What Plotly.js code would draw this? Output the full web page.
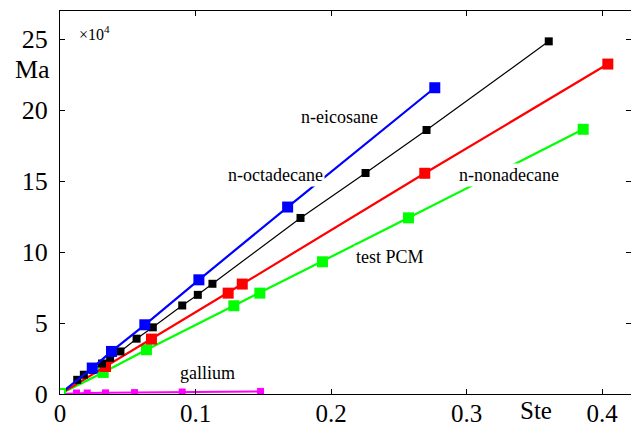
<!DOCTYPE html>
<html>
<head>
<meta charset="utf-8">
<script src="https://cdn.plot.ly/plotly-3.0.1.min.js"></script>
<style>html,body{margin:0;padding:0;background:#fff;}#chart{width:631px;height:424px;}</style>
</head>
<body>
<div id="chart"></div>
<script>
// Ma values in units of 1e4
const eicosaneSte = [0, 0.0238, 0.038, 0.0626, 0.1025, 0.168, 0.2766];
const eicosaneMa  = [0, 1.83, 3.0, 4.88, 8.05, 13.18, 21.59];

const octadecaneSte = [0, 0.0127, 0.0176, 0.024, 0.031, 0.037, 0.0446, 0.0565, 0.0685, 0.0902, 0.1017, 0.1125, 0.1775, 0.2255, 0.2705, 0.3607];
const octadecaneMa  = [0, 1.0, 1.36, 1.7, 2.15, 2.55, 3.0, 3.9, 4.7, 6.24, 6.99, 7.77, 12.41, 15.58, 18.61, 24.86];

const nonadecaneSte = [0, 0.0336, 0.0675, 0.1241, 0.1345, 0.2692, 0.4043];
const nonadecaneMa  = [0, 1.94, 3.87, 7.11, 7.75, 15.56, 23.26];

const testSte = [0, 0.0319, 0.0638, 0.1283, 0.1475, 0.1937, 0.2572, 0.3861];
const testMa  = [0, 1.52, 3.12, 6.22, 7.11, 9.32, 12.42, 18.66];

const galliumSte = [0, 0.0122, 0.0201, 0.0336, 0.055, 0.0902, 0.148];
const galliumMa  = [0, 0.07, 0.07, 0.08, 0.1, 0.14, 0.18];

const xTicks = [0, 0.1, 0.2, 0.3, 0.4];
const xTickText = ['0', '0.1', '0.2', '0.3', '0.4'];
const yTicks = [0, 5, 10, 15, 20, 25];
const yTickText = ['0', '5', '10', '15', '20', '25'];

const serif = 'Liberation Serif, Times New Roman, serif';

const traces = [
  {x: galliumSte, y: galliumMa, mode: 'lines+markers', line: {color: '#ff00ff', width: 2}, marker: {symbol: 'square', size: 7, color: '#ff00ff'}},
  {x: testSte, y: testMa, mode: 'lines+markers', line: {color: '#00ff00', width: 2.2}, marker: {symbol: 'square', size: 11, color: '#00ff00'}},
  {x: nonadecaneSte, y: nonadecaneMa, mode: 'lines+markers', line: {color: '#ff0000', width: 2.2}, marker: {symbol: 'square', size: 11, color: '#ff0000'}},
  {x: octadecaneSte, y: octadecaneMa, mode: 'lines+markers', line: {color: '#000000', width: 1.2}, marker: {symbol: 'square', size: 8, color: '#000000'}},
  {x: eicosaneSte, y: eicosaneMa, mode: 'lines+markers', line: {color: '#0000ff', width: 2.2}, marker: {symbol: 'square', size: 11, color: '#0000ff'}},
  {x: [testSte[0]], y: [testMa[0]], mode: 'markers', marker: {symbol: 'square', size: 10, color: '#ffffff', line: {color: '#00ff00', width: 2}}}
];

function lbl(x, y, text, size) {
  return {x: x, y: y, xref: 'x', yref: 'y', text: text, showarrow: false,
          xanchor: 'center', yanchor: 'middle', bgcolor: '#ffffff', borderpad: 1,
          font: {family: serif, size: size, color: '#000'}};
}
function plbl(x, y, text, size) {
  return {x: x, y: y, xref: 'paper', yref: 'paper', text: text, showarrow: false,
          xanchor: 'center', yanchor: 'middle',
          font: {family: serif, size: size, color: '#000'}};
}

const layout = {
  width: 631, height: 424,
  margin: {l: 60, r: 0, t: 11, b: 30},
  paper_bgcolor: '#ffffff', plot_bgcolor: '#ffffff',
  font: {family: serif, color: '#000'},
  showlegend: false,
  xaxis: {range: [0, 0.4214], tickvals: xTicks, ticktext: xTickText, ticks: 'inside', ticklen: 5,
          tickcolor: '#000', showline: true, linecolor: '#000', linewidth: 1, mirror: 'ticks',
          showgrid: false, zeroline: false, ticklabelstandoff: -3,
          tickfont: {family: serif, size: 25, color: '#000'}},
  yaxis: {range: [0, 27], tickvals: yTicks, ticktext: yTickText, ticks: 'inside', ticklen: 5,
          tickcolor: '#000', showline: true, linecolor: '#000', linewidth: 1, mirror: 'ticks',
          showgrid: false, zeroline: false, ticklabelstandoff: 6,
          tickfont: {family: serif, size: 26, color: '#000'}},
  annotations: [
    lbl(0.2066, 19.54, 'n-eicosane', 18),
    lbl(0.1587, 15.44, 'n-octadecane', 18),
    lbl(0.3317, 15.44, 'n-nonadecane', 18),
    lbl(0.2435, 9.67, 'test PCM', 18),
    lbl(0.1092, 1.5, 'gallium', 18),
    plbl(-0.0482, 0.846, 'Ma', 26),
    plbl(0.8345, -0.042, 'Ste', 25),
    Object.assign(lbl(0.0251, 25.45, '×10<sup>4</sup>', 16), {bgcolor: 'rgba(0,0,0,0)'})
  ]
};

Plotly.newPlot('chart', traces, layout, {staticPlot: true, displayModeBar: false});
</script>
</body>
</html>
